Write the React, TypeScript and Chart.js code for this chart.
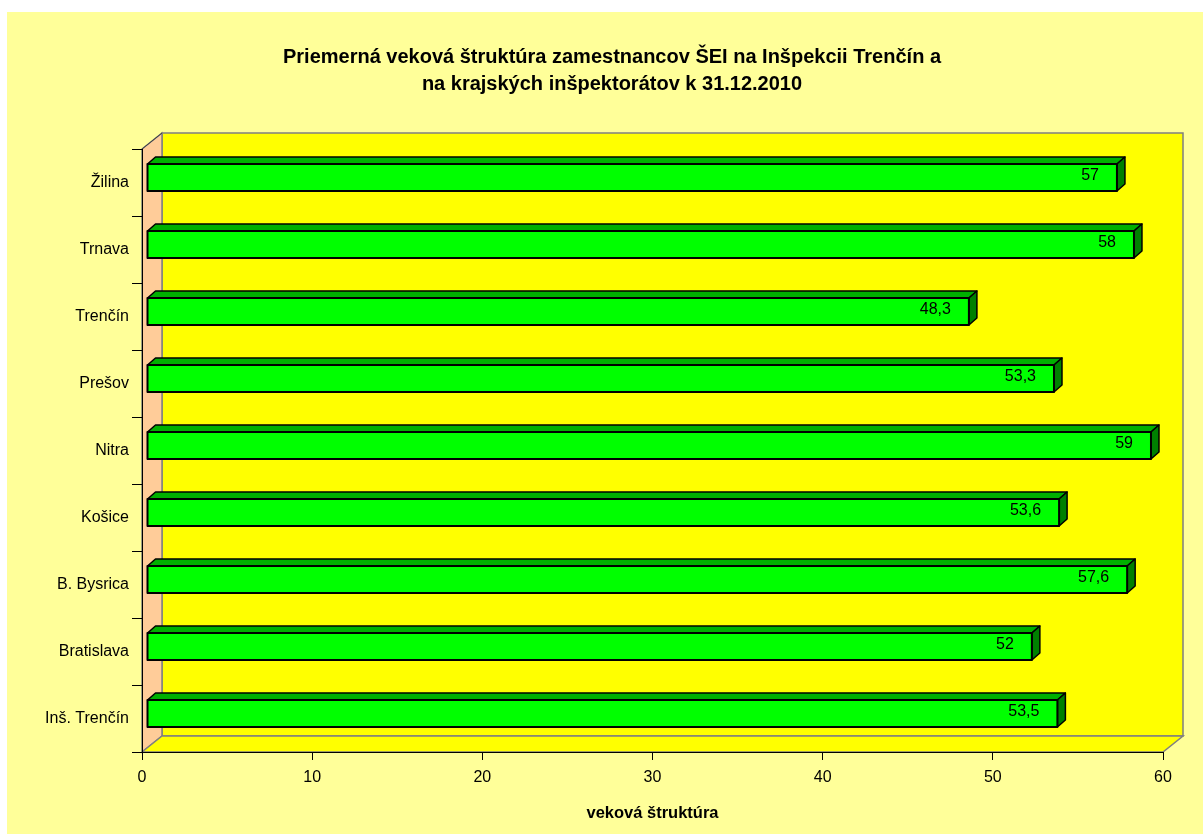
import { useEffect, useRef } from 'react';
import { Chart, registerables } from 'chart.js';

Chart.register(...registerables);

const categories = ['Žilina', 'Trnava', 'Trenčín', 'Prešov', 'Nitra', 'Košice', 'B. Bysrica', 'Bratislava', 'Inš. Trenčín'];
const values = [57, 58, 48.3, 53.3, 59, 53.6, 57.6, 52, 53.5];
const valueLabels = ['57', '58', '48,3', '53,3', '59', '53,6', '57,6', '52', '53,5'];
const xMin = 0;
const xMax = 60;
const xStep = 10;
const titleLines = ['Priemerná veková štruktúra zamestnancov ŠEI na Inšpekcii Trenčín a', 'na krajských inšpektorátov k 31.12.2010'];
const xTitle = 'veková štruktúra';

const FONT = '"Liberation Sans", Arial, sans-serif';
const DX = 20;
const DY = 16;
const BAR_DX = 5;
const BAR_DY = 5;
const BD_X = 8;
const BD_Y = 7;

function poly(ctx: CanvasRenderingContext2D, pts: number[][], fill: string | null, stroke: string | null, lw = 1) {
  ctx.beginPath();
  ctx.moveTo(pts[0][0], pts[0][1]);
  for (let i = 1; i < pts.length; i++) ctx.lineTo(pts[i][0], pts[i][1]);
  ctx.closePath();
  if (fill) {
    ctx.fillStyle = fill;
    ctx.fill();
  }
  if (stroke) {
    ctx.strokeStyle = stroke;
    ctx.lineWidth = lw;
    ctx.stroke();
  }
}

const threeD = {
  id: 'threeD',
  beforeDraw(chart: any) {
    const { ctx, chartArea: a } = chart;
    ctx.save();
    ctx.fillStyle = '#FFFF99';
    ctx.fillRect(7, 12, 1203 - 7, 834 - 12);
    // back wall
    poly(ctx, [[a.left + DX, a.top - DY], [a.right + DX, a.top - DY], [a.right + DX, a.bottom - DY], [a.left + DX, a.bottom - DY]], '#FFFF00', '#808080', 1.5);
    // left wall
    poly(ctx, [[a.left, a.top], [a.left + DX, a.top - DY], [a.left + DX, a.bottom - DY], [a.left, a.bottom]], '#FFCC99', '#808080', 1.5);
    // floor
    poly(ctx, [[a.left, a.bottom], [a.left + DX, a.bottom - DY], [a.right + DX, a.bottom - DY], [a.right, a.bottom]], '#FFFF00', '#808080', 1.5);
    ctx.beginPath();
    ctx.moveTo(a.left, a.top);
    ctx.lineTo(a.left + DX, a.top - DY);
    ctx.strokeStyle = '#404040';
    ctx.lineWidth = 1;
    ctx.stroke();
    // title
    ctx.fillStyle = '#000';
    ctx.font = 'bold 20px ' + FONT;
    ctx.textAlign = 'center';
    ctx.textBaseline = 'alphabetic';
    ctx.fillText(titleLines[0], 612, 63);
    ctx.fillText(titleLines[1], 612, 90);
    ctx.restore();
  },
  afterDatasetsDraw(chart: any) {
    const { ctx } = chart;
    const meta = chart.getDatasetMeta(0);
    ctx.save();
    meta.data.forEach((el: any, i: number) => {
      const p = el.getProps(['x', 'y', 'base', 'height'], true);
      const x0 = p.base + BAR_DX;
      const x1 = p.x + BAR_DX;
      const top = p.y - BAR_DY - p.height / 2;
      const bot = p.y - BAR_DY + p.height / 2;
      ctx.lineJoin = 'round';
      poly(ctx, [[x0, top], [x0 + BD_X, top - BD_Y], [x1 + BD_X, top - BD_Y], [x1, top]], '#00B000', '#000', 1.5);
      poly(ctx, [[x1, top], [x1 + BD_X, top - BD_Y], [x1 + BD_X, bot - BD_Y], [x1, bot]], '#008000', '#000', 1.5);
      poly(ctx, [[x0, top], [x1, top], [x1, bot], [x0, bot]], '#00FF00', '#000', 2);
      ctx.fillStyle = '#000';
      ctx.font = '16px ' + FONT;
      ctx.textAlign = 'right';
      ctx.textBaseline = 'middle';
      ctx.fillText(valueLabels[i], x1 - 18, p.y - BAR_DY - 2);
    });
    ctx.restore();
  },
};

export default function App() {
  const ref = useRef<HTMLCanvasElement>(null);
  useEffect(() => {
    if (!ref.current) return;
    const chart = new Chart(ref.current, {
      type: 'bar',
      data: {
        labels: categories,
        datasets: [
          {
            data: values,
            backgroundColor: 'rgba(0,0,0,0)',
            borderWidth: 0,
            categoryPercentage: 1,
            barPercentage: 27 / 67,
          },
        ],
      },
      options: {
        indexAxis: 'y',
        animation: false,
        responsive: false,
        devicePixelRatio: 1,
        layout: { padding: { left: 7, right: 40, top: 149, bottom: 0 } },
        plugins: { legend: { display: false }, tooltip: { enabled: false }, title: { display: false } },
        scales: {
          y: {
            type: 'category',
            offset: true,
            afterFit: (s: any) => {
              s.width = 135;
            },
            grid: { offset: true, drawOnChartArea: false, drawTicks: true, tickLength: 10, color: '#000', lineWidth: 1 },
            border: { display: true, color: '#000', width: 1 },
            ticks: { color: '#000', font: { family: FONT, size: 16 }, padding: 3 },
          },
          x: {
            type: 'linear',
            min: xMin,
            max: xMax,
            afterFit: (s: any) => {
              s.height = 82;
            },
            grid: { drawOnChartArea: false, drawTicks: true, tickLength: 8, color: '#000', lineWidth: 1 },
            border: { display: true, color: '#000', width: 1 },
            ticks: { stepSize: xStep, color: '#000', font: { family: FONT, size: 16 }, padding: 8 },
            title: { display: true, text: xTitle, color: '#000', font: { family: FONT, size: 16.5, weight: 'bold' }, padding: { top: 0, bottom: 11 } },
          },
        },
      },
      plugins: [threeD],
    });
    return () => chart.destroy();
  }, []);
  return (
    <div style={{ position: 'absolute', left: 0, top: 0, width: 1203, height: 834 }}>
      <canvas ref={ref} width={1203} height={834} style={{ display: 'block' }} />
    </div>
  );
}
